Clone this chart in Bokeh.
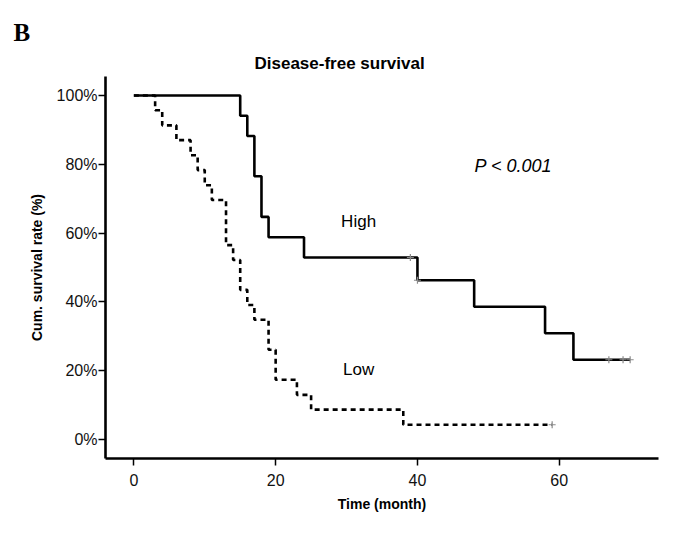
from bokeh.plotting import figure
from bokeh.models import Range1d, Label, FixedTicker, Title
from bokeh.embed import file_html
from bokeh.resources import INLINE

# ---- data ----
high_time = [0, 15, 16, 17, 18, 19, 24, 40, 48, 58, 62, 70]
high_surv = [100, 94.1, 88.2, 76.5, 64.7, 58.8, 52.9, 46.3, 38.6, 30.9, 23.2, 23.2]
high_cens_time = [39, 40, 67, 69, 70]
high_cens_surv = [52.9, 46.3, 23.2, 23.2, 23.2]

low_time = [0, 3, 4, 6, 8, 9, 10, 11, 13, 14, 15, 16, 17, 19, 20, 23, 25, 38, 59]
low_surv = [100, 95.7, 91.3, 87.0, 82.6, 78.3, 73.9, 69.6, 56.5, 52.2, 43.5, 39.1,
            34.8, 26.1, 17.4, 13.0, 8.7, 4.3, 4.3]
low_cens_time = [59]
low_cens_surv = [4.3]

x_ticks = [0, 20, 40, 60]
y_ticks = [0, 20, 40, 60, 80, 100]
y_tick_labels = ["0%", "20%", "40%", "60%", "80%", "100%"]

FONT = "Liberation Sans"

p = figure(width=688, height=533, output_backend="svg", toolbar_location=None,
           x_range=Range1d(-4, 74), y_range=Range1d(-5.5, 105.5),
           min_border_left=105, min_border_right=30, min_border_top=76, min_border_bottom=75)
p.outline_line_color = None
p.grid.grid_line_color = None
p.background_fill_color = "white"
p.border_fill_color = "white"

# outer panel label "B" (outermost title)
p.title.text = "B"
p.title.text_font = "Liberation Serif"
p.title.text_font_size = "25px"
p.title.text_font_style = "bold"
p.title.text_color = "black"
p.title.align = "left"
p.title.offset = -92
p.title.standoff = 5
# chart title (nearest the frame)
p.add_layout(Title(text="Disease-free survival", text_font=FONT, text_font_size="17px",
                   text_font_style="bold", text_color="black", align="left",
                   offset=149, standoff=7), "above")

# curves
p.step(high_time, high_surv, mode="after", line_color="black", line_width=2.6)
p.step(low_time, low_surv, mode="after", line_color="black", line_width=2.6, line_dash="5 4")
p.scatter(high_cens_time, high_cens_surv, marker="cross", size=7, line_color="#8a8a8a", line_width=1.2)
p.scatter(low_cens_time, low_cens_surv, marker="cross", size=7, line_color="#8a8a8a", line_width=1.2)

# axes
for ax in (p.xaxis[0], p.yaxis[0]):
    ax.axis_line_width = 2.6
    ax.axis_line_color = "black"
    ax.major_tick_line_color = "black"
    ax.major_tick_line_width = 1.5
    ax.major_tick_in = 0
    ax.major_tick_out = 7
    ax.minor_tick_line_color = None
    ax.major_label_text_font = FONT
    ax.major_label_text_font_size = "16px"
    ax.major_label_text_color = "#111111"
    ax.axis_label_text_font = FONT
    ax.axis_label_text_font_size = "14px"
    ax.axis_label_text_font_style = "bold"
    ax.axis_label_text_color = "black"

p.xaxis.ticker = FixedTicker(ticks=x_ticks)
p.yaxis.ticker = FixedTicker(ticks=y_ticks)
p.yaxis.major_label_overrides = {t: s for t, s in zip(y_ticks, y_tick_labels)}
p.xaxis.axis_label = "Time (month)"
p.yaxis.axis_label = "Cum. survival rate (%)"
p.xaxis.major_label_standoff = 8
p.yaxis.major_label_standoff = 1
p.xaxis.axis_label_standoff = 7
p.yaxis.axis_label_standoff = 9

# texts
p.add_layout(Label(x=31.7, y=63.3, text="High", text_font=FONT, text_font_size="17px",
                   text_align="center", text_baseline="middle", text_color="black"))
p.add_layout(Label(x=31.7, y=20.4, text="Low", text_font=FONT, text_font_size="17px",
                   text_align="center", text_baseline="middle", text_color="black"))
p.add_layout(Label(x=59.0, y=79.5, text="P < 0.001", text_font=FONT, text_font_size="18px",
                   text_font_style="italic", text_align="right", text_baseline="alphabetic",
                   text_color="black"))

open("out.html", "w").write(file_html(p, INLINE))
